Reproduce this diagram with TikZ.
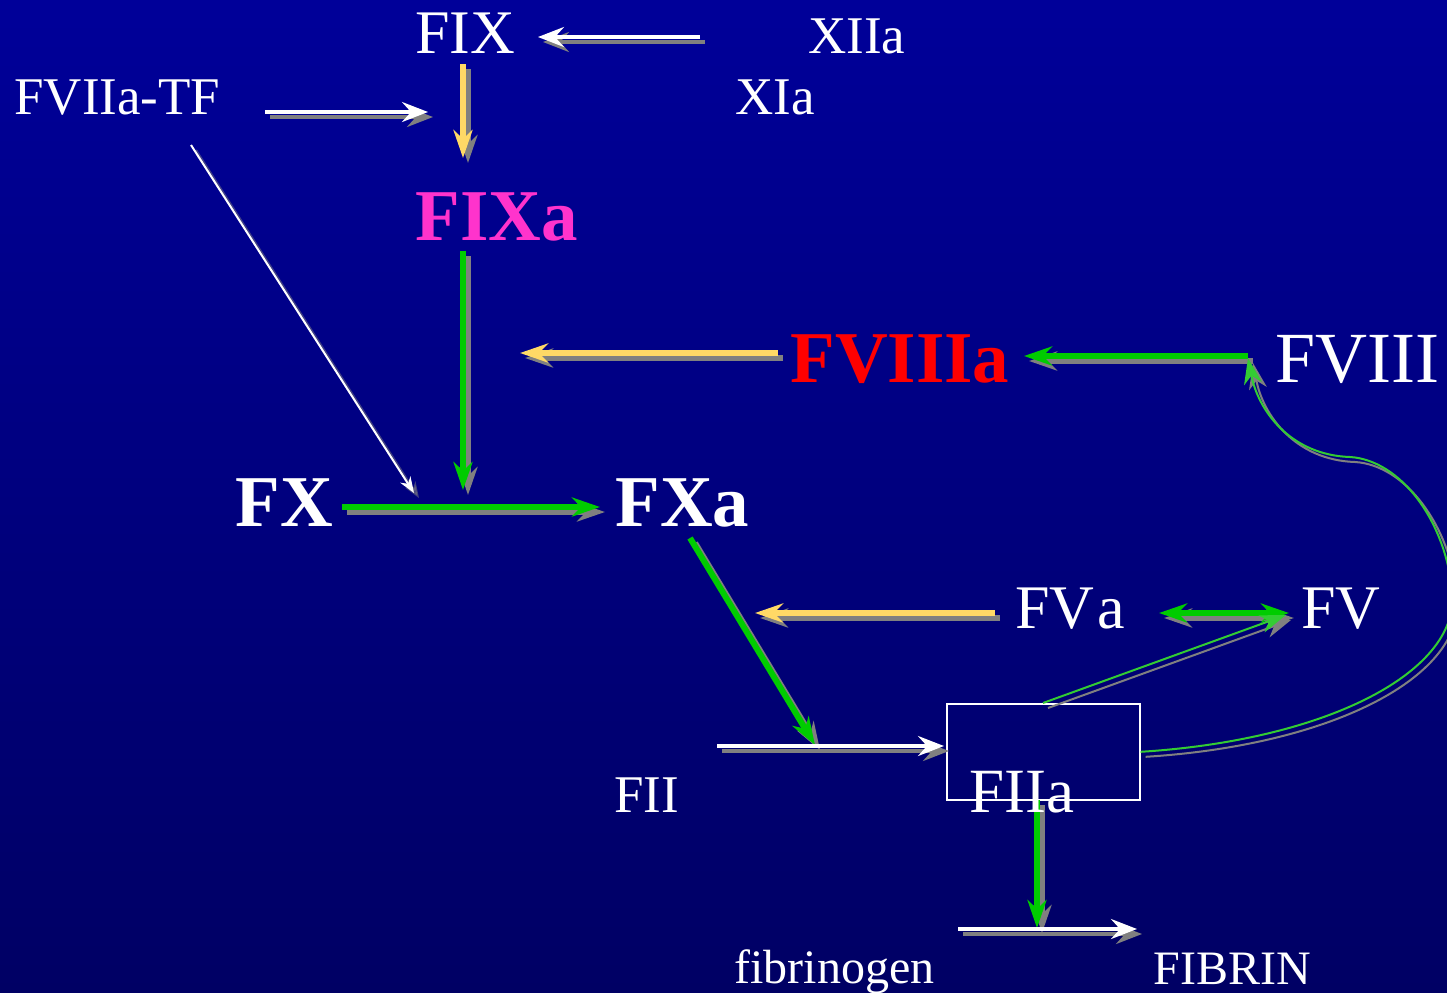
\documentclass[tikz,border=0pt]{standalone}
\usepackage{fontspec}
\setmainfont{Liberation Serif}
\usetikzlibrary{arrows.meta}
\definecolor{bgtop}{RGB}{0,0,153}
\definecolor{bgbot}{RGB}{0,0,100}
\definecolor{ayellow}{RGB}{255,217,102}
\definecolor{agreen}{RGB}{0,204,0}
\definecolor{lgreen}{RGB}{51,204,51}
\definecolor{fmag}{RGB}{255,51,204}
\definecolor{shcol}{RGB}{128,128,128}
\newcommand\fsz[1]{\fontsize{#1}{#1}\selectfont}
\newcommand\sarr[3][]{\draw[#2,shcol,#1,transform canvas={shift={(5,5)}}] #3; \draw[#2] #3;}
\begin{document}
\begin{tikzpicture}[x=0.5pt,y=-0.5pt,
  lbl/.style={text=white, inner sep=0pt, anchor=base west},
  thk/.style={line width=3pt, -{Stealth[length=14pt,width=9.5pt,inset=4.5pt]}},
  wht/.style={white, line width=1.8pt, -{Stealth[length=13pt,width=10pt,inset=4.5pt]}},
  thn/.style={line width=1pt, -{Stealth[length=13pt,width=9pt,inset=4pt]}},
  thw/.style={white, line width=1pt, -{Stealth[length=8pt,width=6pt,inset=2.5pt]}}]
\useasboundingbox (0,0) rectangle (1447,992);
\shade[top color=bgtop, bottom color=bgbot] (0,0) rectangle (1447,992);
\begin{scope}
\clip (0,0) rectangle (1447,992);
% coordinates
\coordinate (a1s) at (700,37);  \coordinate (a1e) at (538,37);
\coordinate (a2s) at (265,112); \coordinate (a2e) at (428,112);
\coordinate (a3s) at (463,64);  \coordinate (a3e) at (463,158);
\coordinate (a4s) at (191,145); \coordinate (a4e) at (414,493);
\coordinate (a5s) at (463,251); \coordinate (a5e) at (463,490);
\coordinate (a6s) at (778,353); \coordinate (a6e) at (520,353);
\coordinate (a7s) at (1248,356); \coordinate (a7e) at (1024,356);
\coordinate (a8s) at (342,507); \coordinate (a8e) at (600,507);
\coordinate (a9s) at (690,538); \coordinate (a9e) at (815,745);
\coordinate (a10s) at (995,613); \coordinate (a10e) at (755,613);
\coordinate (a11s) at (1159,613); \coordinate (a11e) at (1289,613);
\coordinate (a12s) at (717,746); \coordinate (a12e) at (944,746);
\coordinate (a13s) at (1043,703); \coordinate (a13e) at (1286,615);
\coordinate (a14e) at (1248,358);
\coordinate (c1) at (1452,590); \coordinate (c2) at (1350,457);
\coordinate (a15s) at (1037,800); \coordinate (a15e) at (1037,928);
\coordinate (a16s) at (958,929); \coordinate (a16e) at (1137,929);
% box
\node (box) [draw=white, line width=0.8pt, inner sep=0pt, minimum width=96.5pt, minimum height=48pt, anchor=north west] at (946,703) {};
% arrows
\sarr{wht}{(a1s) -- (a1e)}
\sarr{wht}{(a2s) -- (a2e)}
\sarr{thk,ayellow}{(a3s) -- (a3e)}
\sarr[opacity=0.5]{thw}{(a4s) -- (a4e)}
\sarr{thk,agreen}{(a5s) -- (a5e)}
\sarr{thk,ayellow}{(a6s) -- (a6e)}
\sarr{thk,agreen}{(a7s) -- (a7e)}
\sarr{thk,agreen}{(a8s) -- (a8e)}
\sarr{thk,agreen}{(a9s) -- (a9e)}
\sarr{thk,ayellow}{(a10s) -- (a10e)}
\sarr{thk,agreen,{Stealth[length=14pt,width=9.5pt,inset=4.5pt]}-{Stealth[length=14pt,width=9.5pt,inset=4.5pt]}}{(a11s) -- (a11e)}
\sarr{wht}{(a12s) -- (a12e)}
\sarr{thn,lgreen}{(a13s) -- (a13e)}
\sarr{thn,lgreen}{(box.east) .. controls (1330,740) and (1462,670) .. (c1) .. controls (1445,520) and (1400,460) .. (c2) .. controls (1290,455) and (1258,410) .. (a14e)}
\sarr{thk,agreen}{(a15s) -- (a15e)}
\sarr{wht}{(a16s) -- (a16e)}
\end{scope}
% labels
\node[lbl, font=\fsz{31}] (fix) at (415,53) {FIX};
\node[lbl, font=\fsz{26.5}] (xiia) at (808,53) {XIIa};
\node[lbl, font=\fsz{26.5}] (fviiatf) at (14,114) {FVIIa-TF};
\node[lbl, font=\fsz{26.5}] (xia) at (735,114) {XIa};
\node[lbl, font=\fsz{36.5}\bfseries, text=fmag] (fixa) at (415,240) {FIXa};
\node[lbl, font=\fsz{36.5}\bfseries, text=red] (fviiia) at (790,382) {FVIIIa};
\node[lbl, font=\fsz{36}] (fviii) at (1275,382) {FVIII};
\node[lbl, font=\fsz{36.5}\bfseries] (fx) at (235,526) {FX};
\node[lbl, font=\fsz{36.5}\bfseries] (fxa) at (615,526) {FXa};
\node[lbl, font=\fsz{31}] (fva) at (1015,628) {FV\kern1.5pt a};
\node[lbl, font=\fsz{31}] (fv) at (1301,628) {FV};
\node[lbl, font=\fsz{26.5}] (fii) at (614,812) {FII};
\node[lbl, font=\fsz{31.5}] (fiia) at (969,812) {FIIa};
\node[lbl, font=\fsz{24}] (fibrinogen) at (734,983) {fibrinogen};
\node[lbl, font=\fsz{24}] (fibrin) at (1153,984) {FIBRIN};
\end{tikzpicture}
\end{document}
